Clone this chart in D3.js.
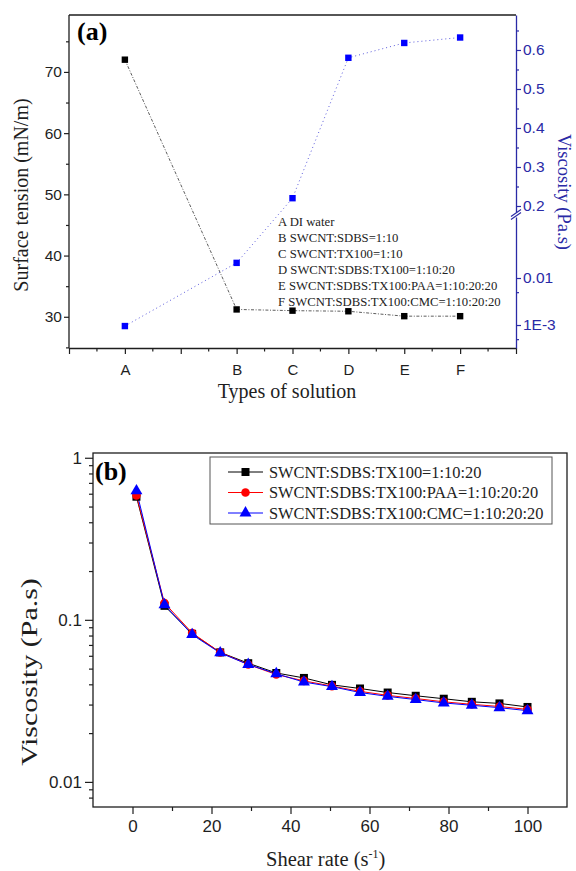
<!DOCTYPE html>
<html><head><meta charset="utf-8">
<script src="https://cdn.jsdelivr.net/npm/d3@7"></script>
<style>
html,body{margin:0;padding:0;background:#fff;}
svg{display:block;}
</style></head><body>
<svg id="fig" width="576" height="871"></svg>
<script>
// ---------- Panel (a): surface tension and viscosity per solution ----------
const slotLabels = ["", "A", "", "B", "C", "D", "E", "F", ""];
const solutions = ["A", "B", "C", "D", "E", "F"];
const solutionNames = [
  "A DI water",
  "B SWCNT:SDBS=1:10",
  "C SWCNT:TX100=1:10",
  "D SWCNT:SDBS:TX100=1:10:20",
  "E SWCNT:SDBS:TX100:PAA=1:10:20:20",
  "F SWCNT:SDBS:TX100:CMC=1:10:20:20"
];
const surfaceTension = [72.0, 31.2, 31.0, 30.9, 30.1, 30.1];
const viscositySolution = [0.00095, 0.021, 0.22, 0.58, 0.618, 0.632];
const tensionTicks = [30, 40, 50, 60, 70];
const tensionMinor = [25, 35, 45, 55, 65, 75];
const viscUpperTicks = [0.2, 0.3, 0.4, 0.5, 0.6];
const viscUpperMinor = [0.25, 0.35, 0.45, 0.55, 0.65];
const viscLowerTicks = [0.001, 0.01];
const viscLowerLabels = ["1E-3", "0.01"];
const viscLowerMinor = [0.0005, 0.005];

// ---------- Panel (b): viscosity vs shear rate ----------
const shearRate = [1, 8.1, 15.1, 22.2, 29.3, 36.4, 43.4, 50.5, 57.6, 64.6, 71.7, 78.8, 85.9, 92.9, 100];
const viscTX100 = [0.575, 0.122, 0.082, 0.063, 0.054, 0.047, 0.0438, 0.0397, 0.0377, 0.0356, 0.0340, 0.0326, 0.0312, 0.0305, 0.0290];
const viscPAA   = [0.585, 0.127, 0.083, 0.063, 0.053, 0.046, 0.0420, 0.0390, 0.0362, 0.0342, 0.0327, 0.0312, 0.0301, 0.0292, 0.0280];
const viscCMC   = [0.625, 0.124, 0.081, 0.0625, 0.053, 0.0465, 0.0413, 0.0387, 0.0356, 0.0337, 0.0322, 0.0307, 0.0297, 0.0287, 0.0275];
const seriesNames = [
  "SWCNT:SDBS:TX100=1:10:20",
  "SWCNT:SDBS:TX100:PAA=1:10:20:20",
  "SWCNT:SDBS:TX100:CMC=1:10:20:20"
];
const shearTicks = [0, 20, 40, 60, 80, 100];
const shearMinor = [10, 30, 50, 70, 90];
const viscTicksB = [0.01, 0.1, 1];
const viscTickLabelsB = ["0.01", "0.1", "1"];

const SERIF = "'Liberation Serif','Times New Roman',serif";
const SANS = "'Liberation Sans',Arial,sans-serif";
const AXIS_BLUE = "#2a2aa6";
const INK = "#1e1e1e";

const svg = d3.select("#fig");

function styleAxis(g, color, size) {
  g.attr("font-family", SANS).attr("font-size", size);
  g.select(".domain").attr("stroke", color).attr("stroke-width", 1.3);
  g.selectAll(".tick line").attr("stroke", color).attr("stroke-width", 1.2);
  g.selectAll(".tick text").attr("fill", color);
}
function minorAxis(axisFn, scale, values, size) {
  return axisFn(scale).tickValues(values).tickSize(size).tickFormat("").tickSizeOuter(0);
}

// ===================== Panel (a) =====================
const A = {left: 69, right: 516, top: 15, bottom: 348};
const xA = d3.scalePoint().domain(d3.range(slotLabels.length)).range([A.left, A.right]);
const xCat = c => xA(slotLabels.indexOf(c));
const yT = d3.scaleLinear().domain([24.9, 79.3]).range([A.bottom, A.top]);
// right axis is broken: linear above the break, logarithmic below it
const BREAK_UP = 212, BREAK_LOW = 217;
const yVup = d3.scaleLinear().domain([0.1846, 0.6897]).range([BREAK_UP, A.top]);
const yVlow = d3.scaleLog().domain([Math.pow(10, -3.489), Math.pow(10, -0.702)]).range([A.bottom, BREAK_LOW]);
const yV = v => v >= 0.1846 ? yVup(v) : yVlow(v);

const gA = svg.append("g");

// top frame line
gA.append("line").attr("x1", A.left).attr("x2", A.right).attr("y1", A.top).attr("y2", A.top)
  .attr("stroke", INK).attr("stroke-width", 1.3);

// left axis (surface tension)
const gL = gA.append("g").attr("transform", `translate(${A.left},0)`)
  .call(d3.axisLeft(yT).tickValues(tensionTicks).tickSize(5).tickPadding(2).tickSizeOuter(0));
styleAxis(gL, INK, 15.5);
gL.select(".domain").attr("d", `M0,${A.top}V${A.bottom}`);
const gLm = gA.append("g").attr("transform", `translate(${A.left},0)`)
  .call(minorAxis(d3.axisLeft, yT, tensionMinor, 3));
styleAxis(gLm, INK, 10); gLm.select(".domain").remove();

// bottom axis (solution type)
const gB = gA.append("g").attr("transform", `translate(0,${A.bottom})`)
  .call(d3.axisBottom(xA).tickValues(d3.range(slotLabels.length)).tickSize(6).tickPadding(10)
    .tickFormat(i => slotLabels[i]).tickSizeOuter(0));
styleAxis(gB, INK, 15);
const halfSlots = d3.range(slotLabels.length - 1).map(i => (xA(i) + xA(i + 1)) / 2);
gA.append("g").selectAll("line").data(halfSlots).join("line")
  .attr("x1", d => d).attr("x2", d => d).attr("y1", A.bottom).attr("y2", A.bottom + 3.5)
  .attr("stroke", INK).attr("stroke-width", 1.2);

// right axis (viscosity), upper linear part
const gRu = gA.append("g").attr("transform", `translate(${A.right},0)`)
  .call(d3.axisRight(yVup).tickValues(viscUpperTicks).tickSize(5).tickPadding(2)
    .tickFormat(d3.format(".1f")).tickSizeOuter(0));
styleAxis(gRu, AXIS_BLUE, 15.5);
const gRum = gA.append("g").attr("transform", `translate(${A.right},0)`)
  .call(minorAxis(d3.axisRight, yVup, viscUpperMinor, 3));
styleAxis(gRum, AXIS_BLUE, 10); gRum.select(".domain").remove();
// lower logarithmic part
const gRl = gA.append("g").attr("transform", `translate(${A.right},0)`)
  .call(d3.axisRight(yVlow).tickValues(viscLowerTicks).tickSize(5).tickPadding(2)
    .tickFormat((d, i) => viscLowerLabels[i]).tickSizeOuter(0));
styleAxis(gRl, AXIS_BLUE, 15.5);
const gRlm = gA.append("g").attr("transform", `translate(${A.right},0)`)
  .call(minorAxis(d3.axisRight, yVlow, viscLowerMinor, 3));
styleAxis(gRlm, AXIS_BLUE, 10); gRlm.select(".domain").remove();
// break marks
[BREAK_UP + 1, BREAK_LOW - 1].forEach(y => {
  gA.append("line").attr("x1", A.right - 5).attr("x2", A.right + 5)
    .attr("y1", y + 3.5).attr("y2", y - 3.5)
    .attr("stroke", AXIS_BLUE).attr("stroke-width", 1.2);
});

// data lines
const ptsT = solutions.map((c, i) => [xCat(c), yT(surfaceTension[i])]);
const ptsV = solutions.map((c, i) => [xCat(c), yV(viscositySolution[i])]);
gA.append("path").attr("d", d3.line()(ptsT)).attr("fill", "none")
  .attr("stroke", "#333").attr("stroke-width", 0.8).attr("stroke-dasharray", "3,1.6,1,1.6");
gA.append("path").attr("d", d3.line()(ptsV)).attr("fill", "none")
  .attr("stroke", "#4a4ad8").attr("stroke-width", 0.9).attr("stroke-dasharray", "1,3");

// legend text inside panel (a)
gA.append("g").selectAll("text").data(solutionNames).join("text")
  .attr("x", 278).attr("y", (d, i) => 225.5 + i * 16)
  .attr("font-family", SERIF).attr("font-size", 12.7).attr("fill", "#222")
  .text(d => d);

// markers
gA.append("g").selectAll("rect").data(ptsT).join("rect")
  .attr("x", d => d[0] - 3.2).attr("y", d => d[1] - 3.2).attr("width", 6.4).attr("height", 6.4)
  .attr("fill", "#000");
gA.append("g").selectAll("rect").data(ptsV).join("rect")
  .attr("x", d => d[0] - 3.2).attr("y", d => d[1] - 3.2).attr("width", 6.4).attr("height", 6.4)
  .attr("fill", "#0000ff");

// titles of panel (a)
gA.append("text").attr("x", 77).attr("y", 40).attr("font-family", SERIF)
  .attr("font-weight", "bold").attr("font-size", 26).attr("fill", "#000").text("(a)");
gA.append("text").attr("transform", "translate(28,195) rotate(-90)").attr("text-anchor", "middle")
  .attr("font-family", SERIF).attr("font-size", 20).attr("fill", INK).text("Surface tension (mN/m)");
gA.append("text").attr("x", 287).attr("y", 398).attr("text-anchor", "middle")
  .attr("font-family", SERIF).attr("font-size", 20).attr("fill", INK).text("Types of solution");
gA.append("text").attr("transform", "translate(558,192) rotate(90)").attr("text-anchor", "middle")
  .attr("font-family", SERIF).attr("font-size", 18.5).attr("fill", AXIS_BLUE).text("Viscosity (Pa.s)");

// ===================== Panel (b) =====================
const B = {left: 93, right: 567, top: 453, bottom: 807};
const xB = d3.scaleLinear().domain([-10, 110]).range([B.left, B.right]);
const yB = d3.scaleLog().domain([0.007, 1.07]).range([B.bottom, B.top]);
const gP = svg.append("g");

gP.append("rect").attr("x", B.left).attr("y", B.top).attr("width", B.right - B.left)
  .attr("height", B.bottom - B.top).attr("fill", "none").attr("stroke", INK).attr("stroke-width", 1.3);

const gBx = gP.append("g").attr("transform", `translate(0,${B.bottom})`)
  .call(d3.axisBottom(xB).tickValues(shearTicks).tickSize(7).tickPadding(6).tickSizeOuter(0));
styleAxis(gBx, INK, 17); gBx.select(".domain").remove();
const gBxm = gP.append("g").attr("transform", `translate(0,${B.bottom})`)
  .call(minorAxis(d3.axisBottom, xB, shearMinor, 4));
styleAxis(gBxm, INK, 10); gBxm.select(".domain").remove();

const logMinor = [];
[0.001, 0.01, 0.1].forEach(dec => d3.range(2, 10).forEach(m => {
  const v = dec * m;
  if (v > 0.0071 && v < 1.07) logMinor.push(v);
}));
const gBy = gP.append("g").attr("transform", `translate(${B.left},0)`)
  .call(d3.axisLeft(yB).tickValues(viscTicksB).tickSize(8).tickPadding(3)
    .tickFormat((d, i) => viscTickLabelsB[i]).tickSizeOuter(0));
styleAxis(gBy, INK, 17); gBy.select(".domain").remove();
const gBym = gP.append("g").attr("transform", `translate(${B.left},0)`)
  .call(minorAxis(d3.axisLeft, yB, logMinor, 4));
styleAxis(gBym, INK, 10); gBym.select(".domain").remove();

const series = [
  {vals: viscTX100, color: "#000000", shape: "square"},
  {vals: viscPAA, color: "#ff0000", shape: "circle"},
  {vals: viscCMC, color: "#0000ff", shape: "triangle"}
];
const symbolOf = {square: d3.symbolSquare, circle: d3.symbolCircle, triangle: d3.symbolTriangle};
const symSize = {square: 64, circle: 58, triangle: 62};
const lineB = d3.line().x(d => xB(d[0])).y(d => yB(d[1]));

series.forEach(s => {
  const pts = shearRate.map((x, i) => [x, s.vals[i]]);
  gP.append("path").attr("d", lineB(pts)).attr("fill", "none")
    .attr("stroke", s.color).attr("stroke-width", 1);
});
series.forEach(s => {
  const pts = shearRate.map((x, i) => [x, s.vals[i]]);
  gP.append("g").selectAll("path").data(pts).join("path")
    .attr("transform", d => `translate(${xB(d[0])},${yB(d[1])})`)
    .attr("d", d3.symbol(symbolOf[s.shape], symSize[s.shape]))
    .attr("fill", s.color);
});

// legend
const lg = gP.append("g");
lg.append("rect").attr("x", 210).attr("y", 457).attr("width", 342).attr("height", 67)
  .attr("fill", "#fff").attr("stroke", "#555").attr("stroke-width", 1);
series.forEach((s, i) => {
  const y = 472 + i * 20.5;
  lg.append("line").attr("x1", 228).attr("x2", 263).attr("y1", y).attr("y2", y)
    .attr("stroke", s.color).attr("stroke-width", 1);
  lg.append("path").attr("transform", `translate(245.5,${y})`)
    .attr("d", d3.symbol(symbolOf[s.shape], symSize[s.shape])).attr("fill", s.color);
  lg.append("text").attr("x", 269).attr("y", y + 5.8).attr("font-family", SERIF)
    .attr("font-size", 16.4).attr("fill", INK).text(seriesNames[i]);
});

// titles of panel (b)
gP.append("text").attr("x", 95).attr("y", 480).attr("font-family", SERIF)
  .attr("font-weight", "bold").attr("font-size", 26).attr("fill", "#000").text("(b)");
// the y title is drawn elongated along its length
gP.append("text").attr("transform", "translate(37,672) rotate(-90) scale(1.3,1)").attr("text-anchor", "middle")
  .attr("font-family", SERIF).attr("font-size", 23).attr("fill", INK).text("Viscosity (Pa.s)");
const xt = gP.append("text").attr("x", 266).attr("y", 866)
  .attr("font-family", SERIF).attr("font-size", 20.5).attr("fill", INK);
xt.append("tspan").text("Shear rate (s");
xt.append("tspan").attr("dy", -8).attr("font-size", 12).text("-1");
xt.append("tspan").attr("dy", 8).text(")");
</script>
</body></html>
